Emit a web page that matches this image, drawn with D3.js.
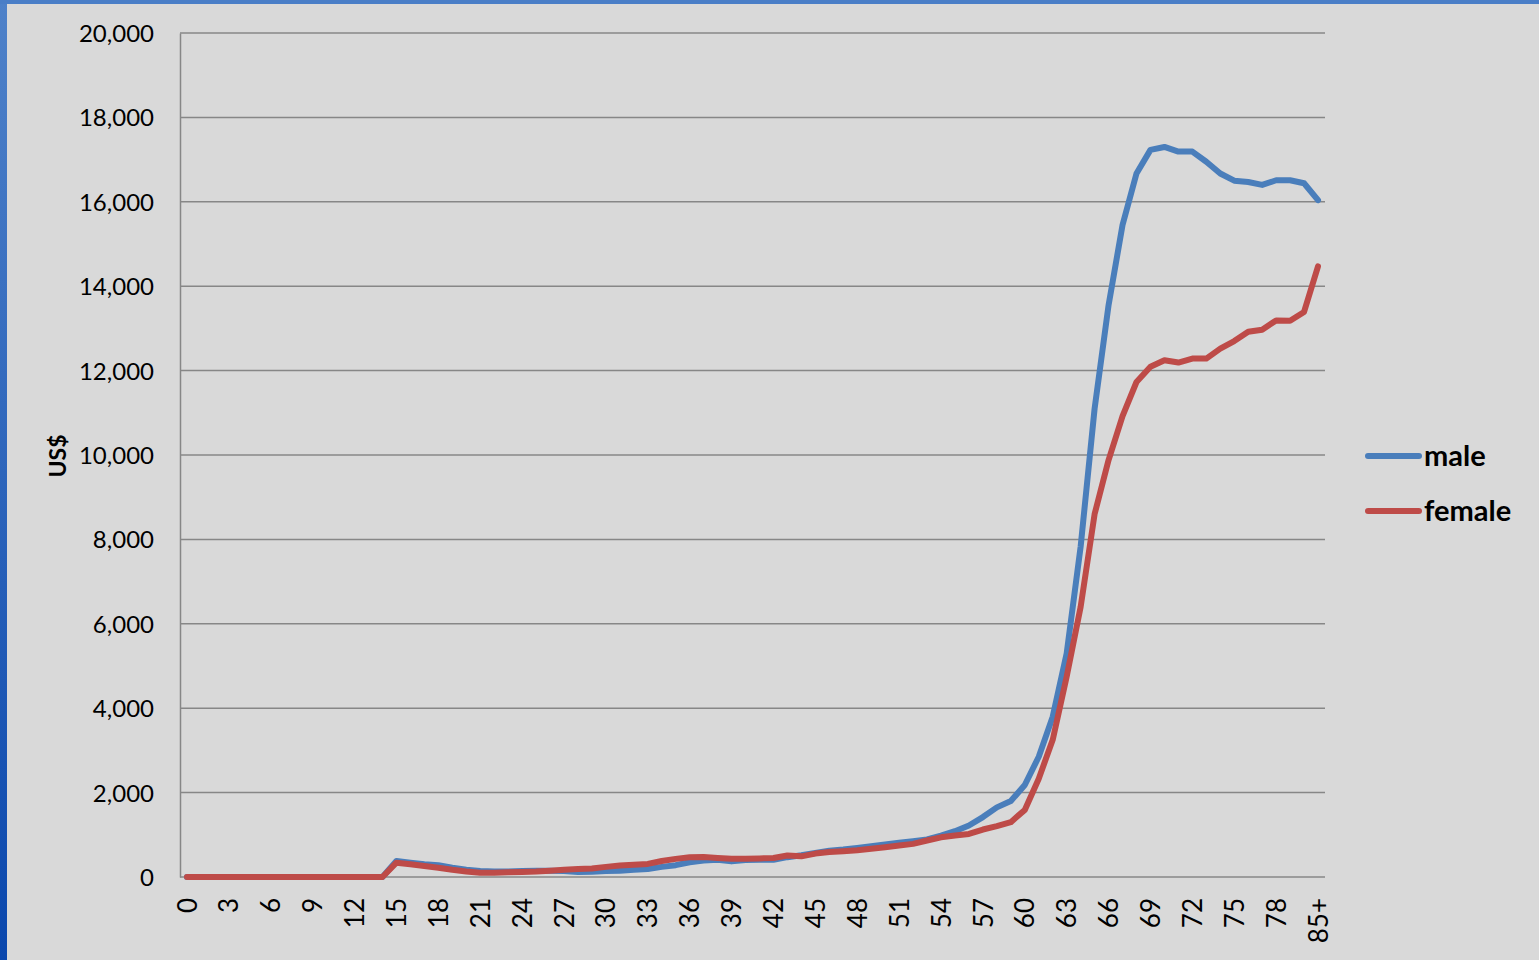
<!DOCTYPE html>
<html>
<head>
<meta charset="utf-8">
<script src="https://cdn.jsdelivr.net/npm/d3@7"></script>
<style>
  html, body { margin: 0; padding: 0; background: #d9d9d9; }
  svg { display: block; }
  text { font-family: Lato, "Open Sans", sans-serif; fill: #000; }
</style>
</head>
<body>
<svg id="chart" width="1539" height="960"></svg>
<script>
// ---- data ----
const ages = d3.range(0, 81).map(String).concat(["85+"]);
const yTicks = [0, 2000, 4000, 6000, 8000, 10000, 12000, 14000, 16000, 18000, 20000];
const seriesNames = ["male", "female"];
const maleValues = [
  0,0,0,0,0,0,0,0,0,0,0,0,0,0,0,
  380,340,300,280,220,170,140,130,130,140,150,150,140,120,125,
  140,150,170,190,240,280,350,390,410,370,400,410,410,470,515,
  570,620,650,690,730,770,810,850,890,980,1085,1220,1420,1650,1800,
  2180,2850,3800,5300,7830,11100,13550,15450,16670,17230,17300,17190,17190,16950,16670,
  16500,16470,16400,16510,16510,16440,16040
];
const femaleValues = [
  0,0,0,0,0,0,0,0,0,0,0,0,0,0,0,
  340,300,260,220,170,130,100,100,110,120,130,150,170,190,200,
  240,270,290,310,380,430,470,475,450,430,430,440,450,510,490,
  555,590,610,635,670,705,745,785,865,940,985,1020,1125,1205,1300,
  1590,2330,3250,4750,6400,8600,9880,10920,11730,12090,12245,12190,12285,12285,12520,
  12700,12920,12970,13190,13180,13390,14470
];
const colors = ["#4a7ebb", "#be4b48"];

// ---- layout ----
const svg = d3.select("#chart");
const W = 1539, H = 960;
const plot = { left: 180, right: 1325, top: 33, bottom: 877 };

// frame
const defs = svg.append("defs");
const gl = defs.append("linearGradient").attr("id", "frameGrad")
  .attr("x1", 0).attr("y1", 0).attr("x2", 0).attr("y2", 1);
gl.append("stop").attr("offset", "0%").attr("stop-color", "#4f82c9");
gl.append("stop").attr("offset", "100%").attr("stop-color", "#0a47ad");
svg.append("rect").attr("width", W).attr("height", H).attr("fill", "url(#frameGrad)");
svg.append("rect").attr("x", 0).attr("y", 0).attr("width", W).attr("height", 4).attr("fill", "#4a7ec7");
svg.append("rect").attr("x", 7).attr("y", 4).attr("width", W - 7).attr("height", H - 4).attr("fill", "#d9d9d9");

const x = d3.scalePoint().domain(ages).range([plot.left, plot.right]).padding(0.5);
const y = d3.scaleLinear().domain([0, 20000]).range([plot.bottom, plot.top]);

// gridlines
svg.append("g").selectAll("line").data(yTicks).join("line")
  .attr("x1", plot.left).attr("x2", plot.right)
  .attr("y1", d => y(d)).attr("y2", d => y(d))
  .attr("stroke", "#878787").attr("stroke-width", 1.5);

// y axis
const yAxis = svg.append("g").attr("transform", `translate(${plot.left},0)`)
  .call(d3.axisLeft(y).tickValues(yTicks).tickSize(0).tickPadding(26).tickFormat(d3.format(",")));
yAxis.select(".domain").attr("stroke", "#878787").attr("stroke-width", 1.5);
yAxis.selectAll("text").style("font-size", "24px").attr("dy", "0.35em");

// x axis labels
const xLabels = ages.filter((d, i) => i % 3 === 0);
const xAxis = svg.append("g").attr("transform", `translate(0,${plot.bottom})`)
  .call(d3.axisBottom(x).tickValues(xLabels).tickSize(0).tickPadding(0));
xAxis.select(".domain").remove();
xAxis.selectAll("text")
  .style("font-size", "26px")
  .attr("text-anchor", "end")
  .attr("transform", "rotate(-90)")
  .attr("x", -21).attr("y", 0).attr("dy", "0.35em");

// y title
svg.append("text").attr("transform", "translate(58,456) rotate(-90)")
  .attr("text-anchor", "middle").attr("dy", "0.35em")
  .style("font-size", "23px").style("font-weight", "bold").text("US$");

// lines
const line = d3.line().x((d, i) => x(ages[i])).y(d => y(d));
[maleValues, femaleValues].forEach((vals, k) => {
  svg.append("path").datum(vals)
    .attr("d", line).attr("fill", "none")
    .attr("stroke", colors[k]).attr("stroke-width", 6)
    .attr("stroke-linejoin", "round").attr("stroke-linecap", "round");
});

// legend
const leg = svg.append("g");
seriesNames.forEach((name, k) => {
  const ly = 456 + k * 55;
  leg.append("line").attr("x1", 1368).attr("x2", 1419).attr("y1", ly).attr("y2", ly)
    .attr("stroke", colors[k]).attr("stroke-width", 6).attr("stroke-linecap", "round");
  leg.append("text").attr("x", 1424).attr("y", ly).attr("dy", "0.35em")
    .style("font-size", "29px").style("font-weight", "bold").text(name);
});
</script>
</body>
</html>
